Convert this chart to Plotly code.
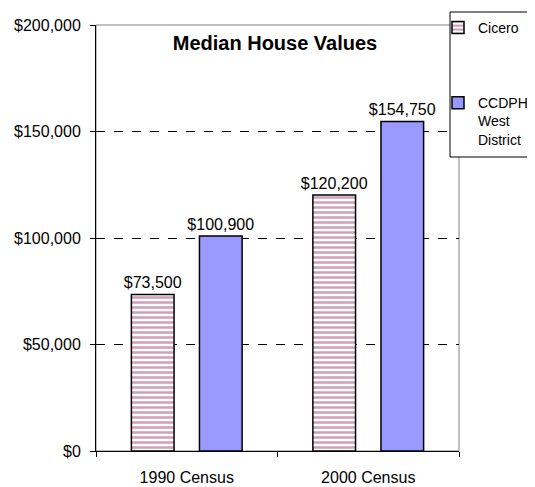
import plotly.graph_objects as go

categories = ["1990 Census", "2000 Census"]
series_names = ["Cicero", "CCDPH<br>West<br>District"]
cicero_values = [73500, 120200]
ccdph_values = [100900, 154750]
y_tick_values = [0, 50000, 100000, 150000, 200000]
y_tick_labels = ["$0", "$50,000", "$100,000", "$150,000", "$200,000"]
chart_title = "Median House Values"

FONT = "Liberation Sans, Arial, sans-serif"

# page body has an 8px default margin; compensate so the figure fills the window
W, H = 527, 479
ML, MR, MT, MB = 88, 76, 17, 36
PW, PH = W - ML - MR, H - MT - MB


def px_x(x):  # window x -> paper
    return (x - 8 - ML) / PW


def px_y(y):  # window y -> paper
    return (H + 8 - MB - y) / PH


fig = go.Figure()
fig.add_trace(go.Bar(
    x=categories, y=cicero_values, name=series_names[0],
    width=0.235, offset=-0.305,
    marker=dict(color="white", line=dict(color="black", width=1.5),
                pattern=dict(shape="-", fgcolor="#a0406f", bgcolor="white", size=5, solidity=0.5)),
    text=[f"${v:,}" for v in cicero_values], textposition="outside", cliponaxis=False,
    constraintext="none",
    textfont=dict(family=FONT, size=16, color="black"),
    legendgroup="a",
))
fig.add_trace(go.Bar(
    x=categories, y=ccdph_values, name=series_names[1],
    width=0.235, offset=0.07,
    marker=dict(color="#9999FF", line=dict(color="black", width=1.5)),
    text=[f"${v:,}" for v in ccdph_values], textposition="outside", cliponaxis=False,
    constraintext="none",
    textfont=dict(family=FONT, size=16, color="black"),
    legendgroup="b",
))

fig.update_layout(
    width=W, height=H,
    margin=dict(l=ML, r=MR, t=MT, b=MB, autoexpand=False),
    paper_bgcolor="white", plot_bgcolor="white",
    barmode="overlay",
    font=dict(family=FONT, size=16, color="black"),
    title=dict(text="<b>" + chart_title + "</b>", x=px_x(275), xref="paper", xanchor="center",
               y=px_y(43), yref="paper", yanchor="middle",
               font=dict(family=FONT, size=20, color="black")),
    xaxis=dict(type="category", categoryorder="array", categoryarray=categories,
               range=[-0.5, 1.5], showline=True, linecolor="black", linewidth=1,
               ticks="outside", tickson="boundaries", ticklen=5, tickcolor="black",
               showgrid=False, ticklabelstandoff=12, fixedrange=True,
               tickfont=dict(family=FONT, size=16, color="black")),
    yaxis=dict(range=[0, 200000], tickvals=y_tick_values, ticktext=y_tick_labels,
               showline=True, linecolor="black", linewidth=1,
               ticks="outside", ticklen=5, tickcolor="black",
               showgrid=True, gridcolor="black", griddash="dash", gridwidth=1,
               zeroline=False, ticklabelstandoff=6,
               tickfont=dict(family=FONT, size=16, color="black")),
    legend=dict(x=px_x(438), y=px_y(12), xref="paper", yref="paper", xanchor="left", yanchor="top",
                bgcolor="rgba(0,0,0,0)", borderwidth=0, valign="top",
                traceorder="grouped", tracegroupgap=54,
                font=dict(family=FONT, size=14, color="black")),
    shapes=[
        dict(type="rect", xref="paper", yref="paper", x0=0, x1=1, y0=0, y1=1,
             line=dict(color="#808080", width=1), layer="below"),
        dict(type="rect", xref="paper", yref="paper",
             x0=px_x(450), x1=px_x(560),
             y0=px_y(157), y1=px_y(12),
             line=dict(color="black", width=1), fillcolor="white", layer="above"),
    ],
)

fig.write_html("out.html")
